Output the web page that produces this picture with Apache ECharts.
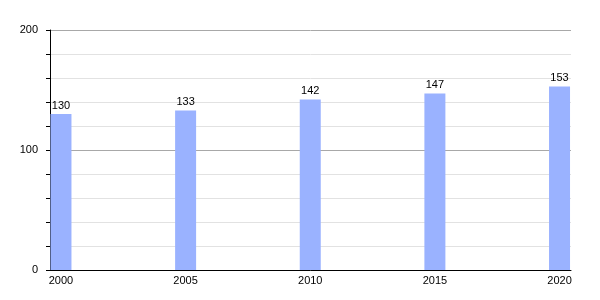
<!DOCTYPE html>
<html><head><meta charset="utf-8">
<script src="https://cdn.jsdelivr.net/npm/echarts@6/dist/echarts.min.js"></script>
<style>html,body{margin:0;padding:0;background:#fff}#c{width:600px;height:300px}</style>
</head><body><div id="c"></div>
<script>
const years = [2000, 2005, 2010, 2015, 2020];
const values = [130, 133, 142, 147, 153];
const yTicks = [0, 100, 200];

const chart = echarts.init(document.getElementById('c'));
const font = '"Liberation Sans", Arial, sans-serif';
chart.setOption({
  animation: false,
  grid: { left: 50, right: 29, top: 30, bottom: 30 },
  xAxis: {
    type: 'value', min: 1999.56, max: 2020.46,
    axisLine: { show: true, onZero: false, lineStyle: { color: '#000', width: 1 } },
    axisTick: { show: false },
    splitLine: { show: false },
    axisLabel: { customValues: years, color: '#000', fontSize: 11, fontFamily: font, margin: 5,
      formatter: v => String(v) }
  },
  yAxis: {
    type: 'value', min: 0, max: 200, interval: 100,
    axisLine: { show: true, lineStyle: { color: '#000', width: 1 } },
    axisTick: { show: true, length: 4, lineStyle: { color: '#000' } },
    minorTick: { show: true, splitNumber: 5, length: 4, lineStyle: { color: '#000' } },
    splitLine: { show: true, lineStyle: { color: '#a8a8a8', width: 1 } },
    minorSplitLine: { show: true, lineStyle: { color: '#e2e2e2', width: 1 } },
    axisLabel: { customValues: yTicks, color: '#000', fontSize: 11, fontFamily: font, margin: 12 }
  },
  series: [{
    type: 'bar',
    data: years.map((y, i) => [y, values[i]]),
    barWidth: 21,
    itemStyle: { color: '#9ab2ff' },
    label: { show: true, position: 'top', distance: 3, color: '#000', fontSize: 11, fontFamily: font }
  }]
});
</script></body></html>
